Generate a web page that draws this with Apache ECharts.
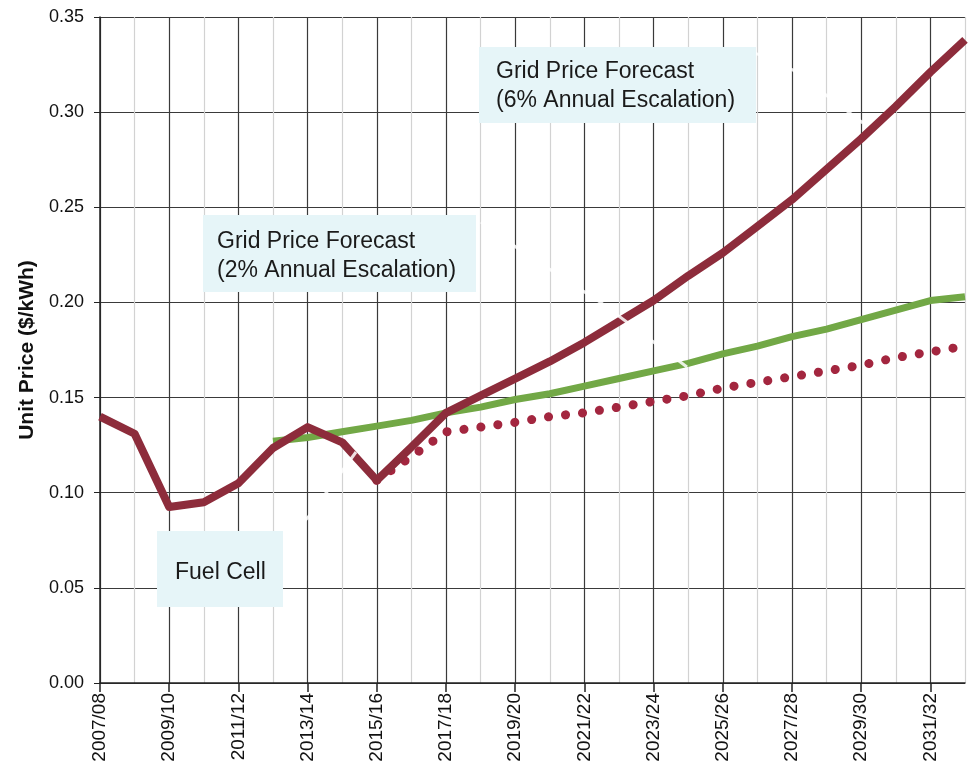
<!DOCTYPE html>
<html>
<head>
<meta charset="utf-8">
<script src="https://cdn.jsdelivr.net/npm/echarts@6/dist/echarts.min.js"></script>
<style>
html,body{margin:0;padding:0;background:#fff;}
#chart{width:973px;height:765px;}
</style>
</head>
<body>
<div id="chart"></div>
<script>
const categories = ['2007/08','2008/09','2009/10','2010/11','2011/12','2012/13','2013/14','2014/15','2015/16','2016/17','2017/18','2018/19','2019/20','2020/21','2021/22','2022/23','2023/24','2024/25','2025/26','2026/27','2027/28','2028/29','2029/30','2030/31','2031/32','2032/33'];

// Solid maroon line: history then 6% annual escalation forecast
const grid6 = [0.140,0.131,0.0925,0.095,0.105,0.1235,0.1345,0.1265,0.1065,0.124,0.142,0.151,0.160,0.169,0.179,0.190,0.201,0.214,0.226,0.240,0.254,0.270,0.286,0.303,0.321,0.338];

// Green line: 2% annual escalation forecast
const grid2 = [null,null,null,null,null,0.127,0.129,0.132,0.135,0.138,0.142,0.145,0.149,0.152,0.156,0.160,0.164,0.168,0.173,0.177,0.182,0.186,0.191,0.196,0.201,0.203];

// Dotted maroon line: fuel cell
const fuelCell = [null,null,null,null,null,null,null,null,0.1065,0.119,0.132,0.1345,0.137,0.140,0.142,0.145,0.148,0.151,0.155,0.158,0.161,0.164,0.167,0.171,0.174,0.177];

const yTicks = [0,0.05,0.10,0.15,0.20,0.25,0.30,0.35];

const FONT = 'Liberation Sans, Arial, sans-serif';
const chart = echarts.init(document.getElementById('chart'), null, {renderer:'canvas'});

const calloutStyle = {fill:'#e6f5f8'};
const textStyle = (t)=>({text:t,font:'23px '+FONT,fill:'#1a1a1a',lineHeight:29});
const leader = {stroke:'#ffffff',lineWidth:3,opacity:0.85};

chart.setOption({
  animation:false,
  backgroundColor:'#ffffff',
  grid:{left:100,right:8,top:17,bottom:82,show:false},
  xAxis:{
    type:'category',
    data:categories,
    boundaryGap:false,
    axisLine:{lineStyle:{color:'#222',width:1.5}},
    axisTick:{show:true,interval:1,length:9,lineStyle:{color:'#222',width:1.5}},
    axisLabel:{interval:1,rotate:90,margin:10,fontSize:19,color:'#111',fontFamily:FONT},
    splitLine:{show:true,interval:0,lineStyle:{color:['#3a3a3a','#d2d2d2'],width:1.2}}
  },
  yAxis:{
    type:'value',
    min:yTicks[0],max:yTicks[yTicks.length-1],interval:0.05,
    name:'Unit Price ($/kWh)',
    nameLocation:'middle',
    nameGap:52,
    nameTextStyle:{fontSize:21,fontWeight:'bold',color:'#111',fontFamily:FONT},
    axisLine:{show:true,lineStyle:{color:'#222',width:1.5}},
    axisTick:{show:true,length:6,lineStyle:{color:'#222'}},
    axisLabel:{fontSize:18,color:'#111',fontFamily:FONT,margin:16,formatter:v=>v.toFixed(2)},
    splitLine:{show:true,lineStyle:{color:'#3a3a3a',width:1.2}}
  },
  series:[
    {name:'Grid Price Forecast (2% Annual Escalation)',type:'line',data:grid2,symbol:'none',z:2,
     lineStyle:{color:'#72a846',width:7}},
    {name:'Fuel Cell',type:'line',data:fuelCell,symbol:'none',z:3,
     lineStyle:{color:'#a3263f',width:9,type:[0.1,17],cap:'round'}},
    {name:'Grid Price Forecast (6% Annual Escalation)',type:'line',data:grid6,symbol:'none',z:4,
     lineStyle:{color:'#8d2c3b',width:8,join:'round'}}
  ],
  graphic:[
    {type:'polyline',z:9,shape:{points:[[755,53],[793,70],[863,123]]},style:leader},
    {type:'polyline',z:9,shape:{points:[[481,222],[520,250],[600,302],[687,367]]},style:leader},
    {type:'polyline',z:9,shape:{points:[[283,545],[310,515],[356,452]]},style:leader},
    {type:'rect',shape:{x:479,y:47,width:277,height:76},style:calloutStyle,z:10},
    {type:'text',left:496,top:57,z:11,style:textStyle('Grid Price Forecast\n(6% Annual Escalation)')},
    {type:'rect',shape:{x:203,y:215,width:273,height:77},style:calloutStyle,z:10},
    {type:'text',left:217,top:227,z:11,style:textStyle('Grid Price Forecast\n(2% Annual Escalation)')},
    {type:'rect',shape:{x:157,y:531,width:126,height:76},style:calloutStyle,z:10},
    {type:'text',left:175,top:558,z:11,style:textStyle('Fuel Cell')}
  ]
});
</script>
</body>
</html>
